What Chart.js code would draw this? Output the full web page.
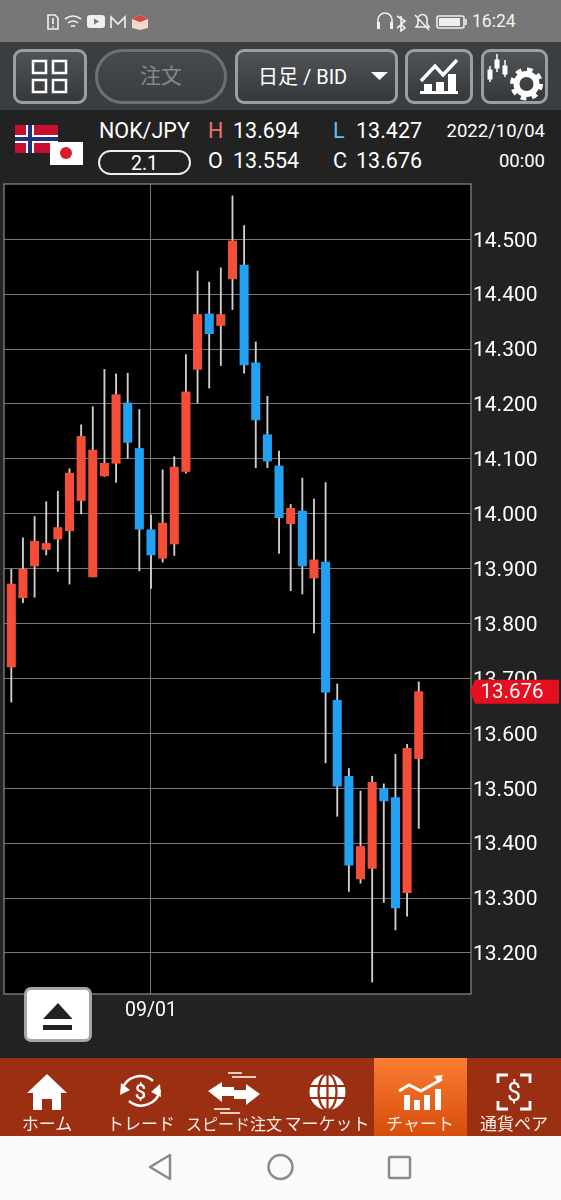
<!DOCTYPE html>
<html lang="ja">
<head>
<meta charset="utf-8">
<title>NOK/JPY</title>
<script src="https://cdn.jsdelivr.net/npm/chart.js@4"></script>
<style>
  html, body { margin: 0; padding: 0; background: #222; }
  #page { position: relative; width: 561px; height: 1200px; overflow: hidden; background: #222;
    font-family: Roboto, "Noto Sans CJK JP", sans-serif; color: #fff; }
  #page div { position: absolute; box-sizing: border-box; }
  #status { left: 0; top: 0; width: 561px; height: 42px; background: #777; }
  #clock { left: 472px; top: 11px; font-size: 17.5px; color: #f2f2f2; }
  #toolbar { left: 0; top: 42px; width: 561px; height: 68px; background: #3b3e40; }
  .btn { top: 49px; height: 55px; border: 3px solid #9a9fa2; border-radius: 9px;
    background: linear-gradient(#505356, #36393b); }
  #orderBtn { left: 95px; width: 132px; border-radius: 28px; border-color: #6c7072;
    background: linear-gradient(#474a4c, #3b3e40); color: #85888a; font-size: 21px;
    text-align: center; line-height: 49px; }
  #rangeBtn { left: 235px; width: 163px; font-size: 20px; line-height: 50px; padding-left: 20px; }
  .info { font-size: 21.5px; line-height: 24px; white-space: nowrap; }
  #spread { left: 98px; top: 150px; width: 93px; height: 25px; border: 2px solid #eee; border-radius: 13px;
    text-align: center; font-size: 19.5px; line-height: 23px; }
  #chartBox { left: 0; top: 180px; width: 561px; height: 878px; }
  #chart { display: block; }
  #eject { left: 24px; top: 987px; width: 68px; height: 55px; background: #fff; border: 3px solid #a3a7a9; border-radius: 7px; }
  #nav { left: 0; top: 1058px; width: 561px; height: 78px; background: #9b2f12; }
  #navActive { left: 374px; top: 1058px; width: 93px; height: 78px; background: linear-gradient(#fb7d32, #d64d0c); }
  .navLabel { top: 1112px; width: 100px; margin-left: -50px; text-align: center; font-size: 17px; line-height: 22px;
    white-space: nowrap; font-family: "Noto Sans CJK JP", sans-serif; color: #f6eee9; }
  #softkeys { left: 0; top: 1136px; width: 561px; height: 64px; background: #fafafa; }
  #icons { position: absolute; left: 0; top: 0; }
</style>
</head>
<body>
<div id="page">
  <div id="status"></div>
  <div id="clock">16:24</div>
  <div id="toolbar"></div>
  <div class="btn" style="left:13px;width:74px"></div>
  <div class="btn" id="orderBtn">注文</div>
  <div class="btn" id="rangeBtn">日足 / BID</div>
  <div class="btn" style="left:405px;width:68px"></div>
  <div class="btn" style="left:481px;width:67px"></div>

  <div class="info" style="left:99px;top:119px;font-size:21.500px">NOK/JPY</div>
  <div class="info" style="left:208px;top:119px;color:#e8726c">H</div>
  <div class="info" style="left:233px;top:119px">13.694</div>
  <div class="info" style="left:333px;top:119px;color:#5cc4ec">L</div>
  <div class="info" style="left:356px;top:119px">13.427</div>
  <div class="info" style="right:16px;top:119px;font-size:18.500px">2022/10/04</div>
  <div id="spread">2.1</div>
  <div class="info" style="left:208px;top:149px">O</div>
  <div class="info" style="left:233px;top:149px">13.554</div>
  <div class="info" style="left:333px;top:149px">C</div>
  <div class="info" style="left:356px;top:149px">13.676</div>
  <div class="info" style="right:16px;top:149px;font-size:18.500px">00:00</div>

  <div id="chartBox"><canvas id="chart" width="561" height="878"></canvas></div>
  <div id="eject"></div>

  <div id="nav"></div>
  <div id="navActive"></div>
  <div class="navLabel" style="left:47px">ホーム</div>
  <div class="navLabel" style="left:141px">トレード</div>
  <div class="navLabel" style="left:234px;font-size:16px">スピード注文</div>
  <div class="navLabel" style="left:327px">マーケット</div>
  <div class="navLabel" style="left:420px">チャート</div>
  <div class="navLabel" style="left:514px">通貨ペア</div>
  <div id="softkeys"></div>

  <svg id="icons" width="561" height="1200" viewBox="0 0 561 1200" fill="none">
    <!-- status bar -->
    <g stroke="#f0f0f0" stroke-width="1.6">
      <path d="M48 15h7l3 3v11h-10z"/>
      <path d="M53 18v6M53 26v1.5"/>
      <path d="M65 19q8-6 16 0M68 23q5-4 10 0M71 26.5q2-1.500 4 0"/>
      <path d="M111 28v-11l7 7 7-7v11"/>
      <path d="M378 28v-8a7 7 0 0 1 14 0v8"/>
      <path d="M397 16l8 5-4 3 4 4-4 3v-15M397 28l4-3"/>
      <path d="M416 27h13l-2-3v-5a4.500 4.500 0 0 0-9 0v5zM415 15l14 15"/>
      <rect x="437" y="16" width="27" height="12" rx="2"/>
      <path d="M466 19v6"/>
    </g>
    <rect x="377" y="22" width="3" height="7" fill="#f0f0f0"/>
    <rect x="390" y="22" width="3" height="7" fill="#f0f0f0"/>
    <rect x="439" y="18" width="21" height="8" fill="#f0f0f0"/>
    <rect x="87" y="15" width="18" height="13" rx="3" fill="#f0f0f0"/>
    <path d="M94 18.500l5 3-5 3z" fill="#777"/>
    <path d="M132 19l8-4 8 4v9l-8 2-8-2z" fill="#f3d6ce"/>
    <path d="M132 19l8-4 8 4-8 3z" fill="#d9453a"/>

    <!-- toolbar -->
    <g stroke="#fff" stroke-width="2.500">
      <rect x="33" y="61" width="13" height="12"/><rect x="53" y="61" width="13" height="12"/>
      <rect x="33" y="80" width="13" height="12"/><rect x="53" y="80" width="13" height="12"/>
    </g>
    <path d="M371 72h17l-8.500 8z" fill="#fff"/>
    <path d="M421 81l14-15 8 9 14-15" stroke="#fff" stroke-width="3.500"/>
    <path d="M420 94h38v-3h-2v-17h-8v17h-4v-9h-8v9h-4v-7h-8v7h-4z" fill="#fff"/>
    <g fill="#fff" stroke="#fff">
      <path d="M490 66v16M497 54v18M505 60v17" stroke-width="1.500"/>
      <rect x="488" y="70" width="4" height="9"/><rect x="495" y="60" width="4" height="8"/><rect x="503" y="66" width="4" height="8"/>
    </g>
    <circle cx="526.500" cy="84" r="10" stroke="#fff" stroke-width="6"/>
    <circle cx="526.500" cy="84" r="14" stroke="#fff" stroke-width="5" stroke-dasharray="5.500 5.500"/>

    <!-- flags -->
    <rect x="15" y="125" width="43" height="28" fill="#c8102e"/>
    <path d="M15 139h43M30 125v28" stroke="#fff" stroke-width="8"/>
    <path d="M15 139h43M30 125v28" stroke="#1c3578" stroke-width="4"/>
    <rect x="50" y="142" width="33" height="23" fill="#fff"/>
    <circle cx="66" cy="153" r="6" fill="#d81e28"/>

    <!-- eject -->
    <path d="M43 1019l15-16 14.500 16z" fill="#222"/>
    <rect x="43" y="1025" width="29" height="5" fill="#222"/>

    <!-- nav icons -->
    <path d="M27 1093l20-19 20 19h-6v17h-9v-11h-10v11h-9v-17z" fill="#fff"/>
    <g stroke="#fff" stroke-width="2.500">
      <path d="M122 1090a19 19 0 0 1 31-9M160 1090a19 19 0 0 1-31 11"/>
    </g>
    <path d="M120 1095l1-12 9 7zM160 1084l1 13-10-5z" fill="#fff"/>
    <path d="M208 1091l14-9v5h12v9h-12v6zM260 1094l-14-10v6h-12v9h12v6z" fill="#fff"/>
    <path d="M228 1073h14M232 1077h24M214 1109h16M220 1113h20" stroke="#fff" stroke-width="1.500"/>
    <circle cx="327.500" cy="1092" r="18" fill="#fff"/>
    <g stroke="#9b2f12" stroke-width="2.200">
      <ellipse cx="327.500" cy="1092" rx="9" ry="18"/>
      <path d="M327.500 1074v36M310 1086h35M310 1098h35"/>
    </g>
    <path d="M399 1091l10-6 12 6 21-12" stroke="#fff" stroke-width="3"/>
    <path d="M434 1076l9-1-4 8z" fill="#fff"/>
    <path d="M404 1110v-15h6v15zM414 1110v-10h6v10zM424 1110v-15h6v15zM435 1110v-21h6v21z" fill="#fff"/>
    <path d="M498 1083v-8h10M530 1083v-8h-10M498 1101v8h10M530 1101v8h-10" stroke="#fff" stroke-width="2.800"/>
    <text x="514" y="1101" text-anchor="middle" fill="#fff" font-size="25" font-family="Roboto">$</text>
    <text x="140.500" y="1099" text-anchor="middle" fill="#fff" font-size="20" font-family="Roboto" font-weight="500">$</text>

    <!-- soft keys -->
    <g stroke="#8a8a8a" stroke-width="2.500" stroke-linejoin="round">
      <path d="M170 1155v24l-20-12z"/>
      <circle cx="280.500" cy="1167" r="12"/>
      <rect x="389" y="1157" width="21" height="21" rx="1.500"/>
    </g>
  </svg>
</div>

<script>
// daily candles
const days = ["08/16","08/17","08/18","08/19","08/22","08/23","08/24","08/25","08/26","08/29","08/30","08/31",
  "09/01","09/02","09/05","09/06","09/07","09/08","09/09","09/12","09/13","09/14","09/15","09/16",
  "09/19","09/20","09/21","09/22","09/23","09/26","09/27","09/28","09/29","09/30","10/03","10/04"];
const opens = [13.721,13.847,13.905,13.935,13.954,13.969,14.024,13.885,14.069,14.092,14.202,14.119,
  13.971,13.919,13.945,14.077,14.263,14.364,14.343,14.428,14.453,14.275,14.144,14.087,
  13.982,14.005,13.883,13.912,13.660,13.522,13.335,13.354,13.499,13.483,13.310,13.554];
const closes = [13.872,13.899,13.950,13.946,13.975,14.074,14.141,14.116,14.092,14.217,14.130,13.972,
  13.925,13.983,14.085,14.222,14.363,14.328,14.363,14.497,14.271,14.171,14.096,13.993,
  14.010,13.905,13.916,13.675,13.504,13.360,13.394,13.511,13.477,13.282,13.573,13.676];
const highs = [13.899,13.956,13.995,14.022,14.041,14.082,14.162,14.195,14.263,14.255,14.256,14.190,
  13.998,14.080,14.104,14.290,14.442,14.422,14.448,14.579,14.525,14.313,14.214,14.114,
  14.017,14.065,14.027,14.057,13.690,13.536,13.495,13.522,13.508,13.562,13.580,13.694];
const lows = [13.657,13.838,13.848,13.925,13.895,13.872,14.000,13.885,14.068,14.057,14.101,13.896,
  13.864,13.912,13.924,14.074,14.202,14.229,14.270,14.372,14.256,14.084,14.084,13.928,
  13.860,13.854,13.783,13.546,13.449,13.312,13.327,13.147,13.292,13.242,13.267,13.427];

const priceTicks = [14.5,14.4,14.3,14.2,14.1,14.0,13.9,13.8,13.7,13.6,13.5,13.4,13.3,13.2];
const dayTicks = ["09/01"];
const lastPrice = 13.676;

const upColor = "#f44d38";
const downColor = "#22a0f2";
const wickColor = "#cfcfcf";
const gridColor = "#757575";

//----------------black plot background and frame-------------------
const plotFrame = {
  id: "plotFrame",
  beforeDraw(chart) {
    const { ctx, chartArea: a } = chart;
    ctx.save();
    ctx.fillStyle = "#000";
    ctx.fillRect(a.left, a.top, a.right - a.left, a.bottom - a.top);
    ctx.restore();
  },
  afterDatasetsDraw(chart) {
    const { ctx, chartArea: a } = chart;
    ctx.save();
    ctx.strokeStyle = "#8c8c8c";
    ctx.lineWidth = 1.2;
    ctx.strokeRect(a.left, a.top, a.right - a.left, a.bottom - a.top);
    ctx.restore();
  }
};

//----------------last price tag-------------------
const lastPriceTag = {
  id: "lastPriceTag",
  afterDraw(chart) {
    const { ctx, chartArea: a } = chart;
    const y = chart.scales.y.getPixelForValue(lastPrice);
    ctx.save();
    ctx.fillStyle = "#e4101f";
    ctx.beginPath();
    ctx.moveTo(a.right - 1, y);
    ctx.lineTo(a.right + 4, y - 12);
    ctx.lineTo(559, y - 12);
    ctx.lineTo(559, y + 12);
    ctx.lineTo(a.right + 4, y + 12);
    ctx.closePath();
    ctx.fill();
    ctx.fillStyle = "#fff";
    ctx.font = "20.5px Roboto";
    ctx.textAlign = "center";
    ctx.textBaseline = "middle";
    ctx.fillText(lastPrice.toFixed(3), 512, y + 1);
    ctx.restore();
  }
};

// no label padding around the axes, the plot box has to stay where it is
function noLabelPadding(scale) {
  scale.paddingTop = 0;
  scale.paddingBottom = 0;
  scale.paddingLeft = 0;
  scale.paddingRight = 0;
}

new Chart(document.getElementById("chart"), {
  type: "bar",
  plugins: [plotFrame, lastPriceTag],
  data: {
    datasets: [
      {
        label: "body",
        order: 1,
        grouped: false,
        barThickness: 8.4,
        data: days.map((d, i) => ({ x: i, y: [opens[i], closes[i]] })),
        backgroundColor: days.map((d, i) => closes[i] >= opens[i] ? upColor : downColor)
      },
      {
        label: "wick",
        order: 2,
        grouped: false,
        barThickness: 1.2,
        data: days.map((d, i) => ({ x: i, y: [lows[i], highs[i]] })),
        backgroundColor: wickColor
      }
    ]
  },
  options: {
    responsive: false,
    animation: false,
    devicePixelRatio: 1,
    layout: { padding: { left: 4, top: 4, right: 0, bottom: 0 } },
    plugins: { legend: { display: false }, tooltip: { enabled: false } },
    scales: {
      x: {
        type: "linear",
        offset: false,
        min: -0.627,
        max: 39.49,
        afterBuildTicks(scale) {
          scale.ticks = dayTicks.map(d => ({ value: days.indexOf(d) }));
        },
        afterFit(scale) {
          scale.height = 64;
          noLabelPadding(scale);
        },
        grid: { offset: false, color: gridColor, lineWidth: 1, drawTicks: false },
        border: { display: false },
        ticks: {
          autoSkip: false,
          maxRotation: 0,
          padding: 5,
          color: "#fff",
          font: { family: "Roboto", size: 19.5 },
          callback: value => days[value]
        }
      },
      y: {
        position: "right",
        min: 13.1253,
        max: 14.6007,
        afterBuildTicks(scale) {
          scale.ticks = priceTicks.map(p => ({ value: p }));
        },
        afterFit(scale) {
          scale.width = 90;
          noLabelPadding(scale);
        },
        grid: { color: gridColor, lineWidth: 1, drawTicks: false },
        border: { display: false },
        ticks: {
          autoSkip: false,
          padding: 2,
          labelOffset: 2,
          color: "#fff",
          font: { family: "Roboto", size: 21 },
          callback: value => value.toFixed(3)
        }
      }
    }
  }
});
</script>
</body>
</html>
